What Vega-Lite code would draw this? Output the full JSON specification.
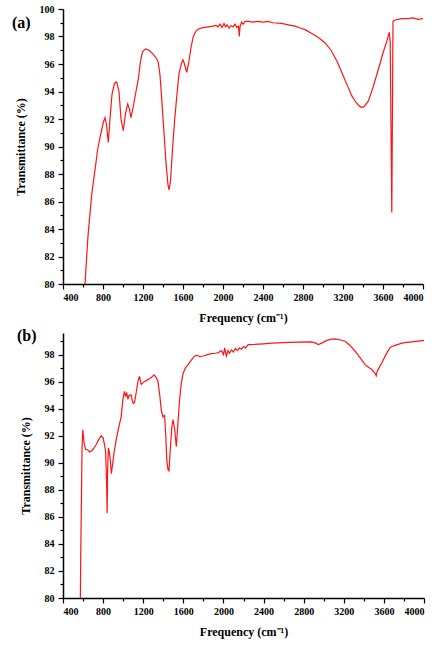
{
  "$schema": "https://vega.github.io/schema/vega-lite/v6.json",
  "padding": {"left": 12, "top": 4, "right": 0, "bottom": 5},
  "background": "white",
  "config": {
    "view": {"stroke": null},
    "font": "Liberation Serif",
    "axis": {
      "grid": false,
      "domainColor": "black",
      "domainWidth": 1.5,
      "tickColor": "black",
      "tickWidth": 1.2,
      "labelFont": "Liberation Serif",
      "labelFontWeight": "bold",
      "labelFontSize": 10,
      "labelColor": "black",
      "titleFont": "Liberation Serif",
      "titleFontWeight": "bold",
      "titleFontSize": 12,
      "titleColor": "black"
    },
    "title": {"font": "Liberation Serif", "fontWeight": "bold", "fontSize": 16, "color": "black", "anchor": "start"}
  },
  "datasets": {
    "a": [
      {"freq": 620, "trans": 80}, {"freq": 650, "trans": 83.5}, {"freq": 687, "trans": 86.5}, {"freq": 720, "trans": 88.3},
      {"freq": 747, "trans": 89.8}, {"freq": 780, "trans": 91.0}, {"freq": 805, "trans": 91.8}, {"freq": 820, "trans": 92.1},
      {"freq": 835, "trans": 91.6}, {"freq": 853, "trans": 90.3}, {"freq": 870, "trans": 92.0}, {"freq": 890, "trans": 93.8},
      {"freq": 915, "trans": 94.6}, {"freq": 937, "trans": 94.7}, {"freq": 960, "trans": 94.0}, {"freq": 980, "trans": 92.0},
      {"freq": 1003, "trans": 91.15}, {"freq": 1025, "trans": 92.4}, {"freq": 1047, "trans": 93.1}, {"freq": 1065, "trans": 92.7},
      {"freq": 1080, "trans": 92.1}, {"freq": 1100, "trans": 92.8}, {"freq": 1130, "trans": 94.0}, {"freq": 1153, "trans": 94.9},
      {"freq": 1175, "trans": 96.2}, {"freq": 1195, "trans": 96.9}, {"freq": 1227, "trans": 97.1}, {"freq": 1260, "trans": 97.0},
      {"freq": 1303, "trans": 96.7}, {"freq": 1335, "trans": 96.4}, {"freq": 1353, "trans": 96.1}, {"freq": 1370, "trans": 95.2},
      {"freq": 1387, "trans": 93.5}, {"freq": 1410, "trans": 91.0}, {"freq": 1430, "trans": 88.8}, {"freq": 1450, "trans": 87.2},
      {"freq": 1460, "trans": 86.85}, {"freq": 1475, "trans": 87.5}, {"freq": 1495, "trans": 89.8}, {"freq": 1515, "trans": 91.8},
      {"freq": 1537, "trans": 93.6}, {"freq": 1560, "trans": 95.3}, {"freq": 1587, "trans": 96.1}, {"freq": 1600, "trans": 96.3},
      {"freq": 1615, "trans": 96.0}, {"freq": 1637, "trans": 95.4}, {"freq": 1655, "trans": 96.0}, {"freq": 1680, "trans": 97.2},
      {"freq": 1703, "trans": 98.0}, {"freq": 1730, "trans": 98.4}, {"freq": 1753, "trans": 98.55}, {"freq": 1800, "trans": 98.65},
      {"freq": 1853, "trans": 98.7}, {"freq": 1900, "trans": 98.75}, {"freq": 1930, "trans": 98.8}, {"freq": 1950, "trans": 98.7},
      {"freq": 1970, "trans": 98.9}, {"freq": 1990, "trans": 98.65}, {"freq": 2010, "trans": 98.95}, {"freq": 2025, "trans": 98.7},
      {"freq": 2040, "trans": 98.85}, {"freq": 2060, "trans": 98.6}, {"freq": 2080, "trans": 98.8}, {"freq": 2100, "trans": 98.7},
      {"freq": 2120, "trans": 98.9}, {"freq": 2140, "trans": 98.65}, {"freq": 2155, "trans": 98.75}, {"freq": 2163, "trans": 98.0},
      {"freq": 2170, "trans": 98.7}, {"freq": 2185, "trans": 99.05}, {"freq": 2200, "trans": 98.9}, {"freq": 2220, "trans": 99.1},
      {"freq": 2253, "trans": 99.1}, {"freq": 2300, "trans": 99.05}, {"freq": 2350, "trans": 99.1}, {"freq": 2400, "trans": 99.05},
      {"freq": 2450, "trans": 99.1}, {"freq": 2500, "trans": 99.0}, {"freq": 2587, "trans": 98.95}, {"freq": 2650, "trans": 98.85},
      {"freq": 2720, "trans": 98.75}, {"freq": 2780, "trans": 98.6}, {"freq": 2820, "trans": 98.5}, {"freq": 2880, "trans": 98.25},
      {"freq": 2950, "trans": 97.95}, {"freq": 3020, "trans": 97.55}, {"freq": 3080, "trans": 97.0}, {"freq": 3140, "trans": 96.2},
      {"freq": 3187, "trans": 95.4}, {"freq": 3240, "trans": 94.5}, {"freq": 3287, "trans": 93.7}, {"freq": 3330, "trans": 93.2},
      {"freq": 3370, "trans": 92.9}, {"freq": 3387, "trans": 92.85}, {"freq": 3410, "trans": 92.9}, {"freq": 3453, "trans": 93.3},
      {"freq": 3500, "trans": 94.3}, {"freq": 3553, "trans": 95.6}, {"freq": 3600, "trans": 96.8}, {"freq": 3640, "trans": 97.7},
      {"freq": 3663, "trans": 98.3}, {"freq": 3672, "trans": 97.6}, {"freq": 3688, "trans": 85.2}, {"freq": 3700, "trans": 99.1},
      {"freq": 3720, "trans": 99.2}, {"freq": 3787, "trans": 99.3}, {"freq": 3850, "trans": 99.3}, {"freq": 3900, "trans": 99.35},
      {"freq": 3950, "trans": 99.25}, {"freq": 4000, "trans": 99.3}
    ],
    "b": [
      {"freq": 573, "trans": 80}, {"freq": 578, "trans": 84}, {"freq": 585, "trans": 88}, {"freq": 590, "trans": 91},
      {"freq": 597, "trans": 92.44}, {"freq": 610, "trans": 91.5}, {"freq": 625, "trans": 91.0}, {"freq": 647, "trans": 90.95},
      {"freq": 665, "trans": 90.8}, {"freq": 680, "trans": 90.86}, {"freq": 700, "trans": 91.0}, {"freq": 730, "trans": 91.33},
      {"freq": 755, "trans": 91.7}, {"freq": 780, "trans": 92.0}, {"freq": 800, "trans": 91.85}, {"freq": 815, "trans": 91.3},
      {"freq": 825, "trans": 90.8}, {"freq": 835, "trans": 88.5}, {"freq": 840, "trans": 86.27}, {"freq": 845, "trans": 89.5},
      {"freq": 853, "trans": 91.1}, {"freq": 862, "trans": 90.8}, {"freq": 872, "trans": 90.2}, {"freq": 882, "trans": 89.2},
      {"freq": 895, "trans": 89.9}, {"freq": 910, "trans": 90.8}, {"freq": 930, "trans": 91.7}, {"freq": 955, "trans": 92.6},
      {"freq": 980, "trans": 93.4}, {"freq": 997, "trans": 94.67}, {"freq": 1013, "trans": 95.28}, {"freq": 1025, "trans": 94.9},
      {"freq": 1035, "trans": 95.2}, {"freq": 1047, "trans": 94.7}, {"freq": 1060, "trans": 95.0}, {"freq": 1080, "trans": 95.0},
      {"freq": 1090, "trans": 94.6}, {"freq": 1100, "trans": 94.4}, {"freq": 1113, "trans": 94.45}, {"freq": 1130, "trans": 95.2},
      {"freq": 1147, "trans": 96.0}, {"freq": 1163, "trans": 96.4}, {"freq": 1180, "trans": 95.8}, {"freq": 1210, "trans": 96.0},
      {"freq": 1247, "trans": 96.15}, {"freq": 1280, "trans": 96.3}, {"freq": 1307, "trans": 96.5}, {"freq": 1330, "trans": 96.3},
      {"freq": 1347, "trans": 96.0}, {"freq": 1365, "trans": 95.0}, {"freq": 1380, "trans": 93.9}, {"freq": 1397, "trans": 93.4},
      {"freq": 1413, "trans": 93.5}, {"freq": 1425, "trans": 92.0}, {"freq": 1435, "trans": 90.2}, {"freq": 1447, "trans": 89.5},
      {"freq": 1457, "trans": 89.4}, {"freq": 1470, "trans": 91.0}, {"freq": 1485, "trans": 92.6}, {"freq": 1497, "trans": 93.2},
      {"freq": 1513, "trans": 92.5}, {"freq": 1530, "trans": 91.2}, {"freq": 1545, "trans": 92.8}, {"freq": 1563, "trans": 94.7},
      {"freq": 1580, "trans": 95.9}, {"freq": 1597, "trans": 96.6}, {"freq": 1620, "trans": 97.0}, {"freq": 1647, "trans": 97.26},
      {"freq": 1680, "trans": 97.6}, {"freq": 1713, "trans": 97.9}, {"freq": 1740, "trans": 97.95}, {"freq": 1763, "trans": 97.85},
      {"freq": 1800, "trans": 97.9}, {"freq": 1840, "trans": 98.0}, {"freq": 1880, "trans": 98.07}, {"freq": 1920, "trans": 98.1},
      {"freq": 1950, "trans": 98.15}, {"freq": 1980, "trans": 98.3}, {"freq": 2000, "trans": 98.0}, {"freq": 2013, "trans": 98.5},
      {"freq": 2022, "trans": 98.1}, {"freq": 2030, "trans": 97.9}, {"freq": 2045, "trans": 98.3}, {"freq": 2060, "trans": 98.1},
      {"freq": 2080, "trans": 98.35}, {"freq": 2100, "trans": 98.2}, {"freq": 2120, "trans": 98.45}, {"freq": 2140, "trans": 98.3},
      {"freq": 2160, "trans": 98.5}, {"freq": 2180, "trans": 98.4}, {"freq": 2200, "trans": 98.6}, {"freq": 2220, "trans": 98.5},
      {"freq": 2247, "trans": 98.74}, {"freq": 2300, "trans": 98.75}, {"freq": 2400, "trans": 98.8}, {"freq": 2480, "trans": 98.85},
      {"freq": 2547, "trans": 98.87}, {"freq": 2650, "trans": 98.9}, {"freq": 2750, "trans": 98.92}, {"freq": 2880, "trans": 98.94},
      {"freq": 2920, "trans": 98.85}, {"freq": 2947, "trans": 98.75}, {"freq": 2980, "trans": 98.85}, {"freq": 3030, "trans": 99.05},
      {"freq": 3080, "trans": 99.15}, {"freq": 3113, "trans": 99.16}, {"freq": 3160, "trans": 99.1}, {"freq": 3213, "trans": 98.99},
      {"freq": 3260, "trans": 98.7}, {"freq": 3313, "trans": 98.25}, {"freq": 3360, "trans": 97.8}, {"freq": 3413, "trans": 97.26},
      {"freq": 3450, "trans": 97.05}, {"freq": 3480, "trans": 96.9}, {"freq": 3500, "trans": 96.7}, {"freq": 3515, "trans": 96.6},
      {"freq": 3523, "trans": 96.44}, {"freq": 3535, "trans": 96.8}, {"freq": 3550, "trans": 97.0}, {"freq": 3580, "trans": 97.4},
      {"freq": 3620, "trans": 98.0}, {"freq": 3660, "trans": 98.5}, {"freq": 3680, "trans": 98.6}, {"freq": 3720, "trans": 98.7},
      {"freq": 3780, "trans": 98.85}, {"freq": 3830, "trans": 98.9}, {"freq": 3880, "trans": 98.95}, {"freq": 3940, "trans": 99.0},
      {"freq": 4000, "trans": 99.05}
    ]
  },
  "spacing": 5,
  "vconcat": [
    {
      "width": 360,
      "height": 275,
      "title": {"text": "(a)", "dy": 31, "dx": -2},
      "data": {"name": "a"},
      "mark": {"type": "line", "color": "#ff1414", "strokeWidth": 1.2},
      "encoding": {
        "x": {
          "field": "freq", "type": "quantitative",
          "scale": {"domain": [400, 4000], "nice": false},
          "axis": {
            "title": "Frequency (cm⁻¹)",
            "values": [400, 600, 800, 1000, 1200, 1400, 1600, 1800, 2000, 2200, 2400, 2600, 2800, 3000, 3200, 3400, 3600, 3800, 4000],
            "format": "d",
            "labelExpr": "datum.value % 400 == 0 ? datum.label : ''",
            "tickSize": {"condition": {"test": "datum.value % 400 == 0", "value": 5}, "value": 3},
            "labelPadding": 3,
            "titlePadding": 10
          }
        },
        "y": {
          "field": "trans", "type": "quantitative",
          "scale": {"domain": [80, 100], "nice": false, "zero": false},
          "axis": {
            "title": "Transmittance (%)",
            "values": [80, 81, 82, 83, 84, 85, 86, 87, 88, 89, 90, 91, 92, 93, 94, 95, 96, 97, 98, 99, 100],
            "labelExpr": "datum.value % 2 == 0 ? datum.label : ''",
            "tickSize": {"condition": {"test": "datum.value % 2 == 0", "value": 5}, "value": 3},
            "labelPadding": 4,
            "titlePadding": 12
          }
        }
      }
    },
    {
      "width": 361,
      "height": 265,
      "title": {"text": "(b)", "dy": 15, "dx": -2},
      "data": {"name": "b"},
      "mark": {"type": "line", "color": "#ff1414", "strokeWidth": 1.2},
      "encoding": {
        "x": {
          "field": "freq", "type": "quantitative",
          "scale": {"domain": [400, 4000], "nice": false},
          "axis": {
            "title": "Frequency (cm⁻¹)",
            "values": [400, 600, 800, 1000, 1200, 1400, 1600, 1800, 2000, 2200, 2400, 2600, 2800, 3000, 3200, 3400, 3600, 3800, 4000],
            "format": "d",
            "labelExpr": "datum.value % 400 == 0 ? datum.label : ''",
            "tickSize": {"condition": {"test": "datum.value % 400 == 0", "value": 5}, "value": 3},
            "labelPadding": 3,
            "titlePadding": 10
          }
        },
        "y": {
          "field": "trans", "type": "quantitative",
          "scale": {"domain": [80, 99.6], "nice": false, "zero": false},
          "axis": {
            "title": "Transmittance (%)",
            "values": [80, 81, 82, 83, 84, 85, 86, 87, 88, 89, 90, 91, 92, 93, 94, 95, 96, 97, 98, 99],
            "labelExpr": "datum.value % 2 == 0 ? datum.label : ''",
            "tickSize": {"condition": {"test": "datum.value % 2 == 0", "value": 5}, "value": 3},
            "labelPadding": 4,
            "titlePadding": 12
          }
        }
      }
    }
  ]
}
